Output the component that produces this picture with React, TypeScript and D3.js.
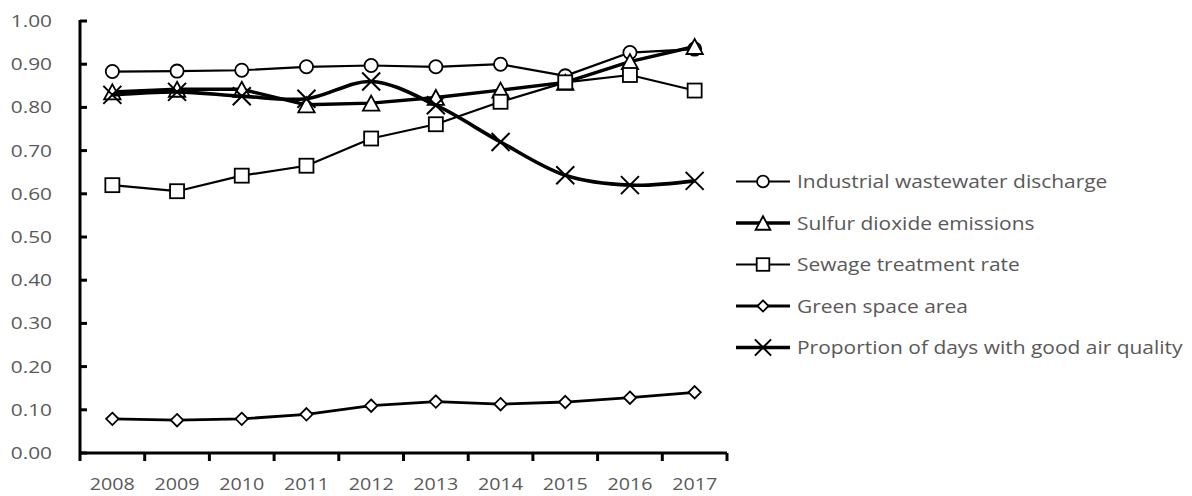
import React from "react";
import * as d3 from "d3";

const years = ["2008", "2009", "2010", "2011", "2012", "2013", "2014", "2015", "2016", "2017"];
const wastewater = [0.883, 0.884, 0.886, 0.894, 0.897, 0.894, 0.9, 0.873, 0.927, 0.935];
const sulfur = [0.836, 0.842, 0.842, 0.806, 0.81, 0.823, 0.84, 0.858, 0.906, 0.941];
const sewage = [0.62, 0.606, 0.642, 0.665, 0.728, 0.761, 0.813, 0.858, 0.875, 0.839];
const green = [0.079, 0.076, 0.079, 0.0895, 0.1095, 0.119, 0.113, 0.118, 0.128, 0.1405];
const air = [0.829, 0.836, 0.826, 0.82, 0.86, 0.805, 0.72, 0.643, 0.62, 0.63];
const yTicks = [0, 0.1, 0.2, 0.3, 0.4, 0.5, 0.6, 0.7, 0.8, 0.9, 1.0];
const seriesNames = [
  "Industrial wastewater discharge",
  "Sulfur dioxide emissions",
  "Sewage treatment rate",
  "Green space area",
  "Proportion of days with good air quality",
];

type Marker = "circle" | "triangle" | "square" | "diamond" | "x";
const series: { name: string; values: number[]; marker: Marker; width: number; smooth: boolean }[] = [
  { name: seriesNames[0], values: wastewater, marker: "circle", width: 2.2, smooth: false },
  { name: seriesNames[1], values: sulfur, marker: "triangle", width: 3.4, smooth: false },
  { name: seriesNames[2], values: sewage, marker: "square", width: 2.2, smooth: false },
  { name: seriesNames[3], values: green, marker: "diamond", width: 2.8, smooth: false },
  { name: seriesNames[4], values: air, marker: "x", width: 3.6, smooth: true },
];

const W = 1192;
const H = 496;
const FONT = "'Open Sans', sans-serif";
const SX = 1.27;
const TEXT = "#595959";

function MarkerShape({ type, x, y, s }: { type: Marker; x: number; y: number; s: number }) {
  const sw = 1.8;
  if (type === "circle") return <circle cx={x} cy={y} r={6.6 * s} fill="#fff" stroke="#000" strokeWidth={sw} />;
  if (type === "square") {
    const h = 7 * s;
    return <rect x={x - h} y={y - h} width={2 * h} height={2 * h} fill="#fff" stroke="#000" strokeWidth={sw} />;
  }
  if (type === "triangle") {
    const w = 8.2 * s;
    const hh = 7.5 * s;
    return (
      <path
        d={`M${x},${y - hh}L${x + w},${y + hh}L${x - w},${y + hh}Z`}
        fill="#fff"
        stroke="#000"
        strokeWidth={sw}
        strokeLinejoin="miter"
      />
    );
  }
  if (type === "diamond") {
    const h = 6.2 * s;
    return <path d={`M${x},${y - h}L${x + h},${y}L${x},${y + h}L${x - h},${y}Z`} fill="#fff" stroke="#000" strokeWidth={sw} />;
  }
  const h = 9 * s;
  return (
    <path d={`M${x - h},${y - h}L${x + h},${y + h}M${x - h},${y + h}L${x + h},${y - h}`} stroke="#000" strokeWidth={2} fill="none" />
  );
}

function SText(props: { x: number; y: number; anchor: string; size: number; children: string; sx?: number }) {
  const k = props.sx ?? SX;
  return (
    <text
      transform={`translate(${props.x},${props.y}) scale(${k},1)`}
      textAnchor={props.anchor as any}
      fontFamily={FONT}
      fontSize={props.size}
      fill={TEXT}
    >
      {props.children}
    </text>
  );
}

export default function App() {
  const x0 = 80;
  const x1 = 727;
  const yTop = 21;
  const yBot = 453;
  const xb = d3.scaleBand<string>().domain(years).range([x0, x1]);
  const xc = (i: number) => (xb(years[i]) as number) + xb.bandwidth() / 2;
  const y = d3.scaleLinear().domain([0, 1]).range([yBot, yTop]);

  const legX0 = 736;
  const legX1 = 790;
  const legY0 = 181.5;
  const legStep = 41.5;

  return (
    <svg width={W} height={H} style={{ position: "absolute", left: 0, top: 0, background: "#fff" }}>
      <rect width={W} height={H} fill="#fff" />
      {/* Y axis */}
      <line x1={x0} x2={x0} y1={yTop - 1} y2={yBot + 8} stroke="#000" strokeWidth={3} />
      {yTicks.map((t) => (
        <g key={t}>
          <line x1={x0} x2={x0 + 7} y1={y(t)} y2={y(t)} stroke="#000" strokeWidth={3} />
          <SText x={52} y={y(t) + 5.9} anchor="end" size={16.4}>
            {d3.format(".2f")(t)}
          </SText>
        </g>
      ))}
      {/* X axis */}
      <line x1={x0} x2={x1} y1={yBot} y2={yBot} stroke="#000" strokeWidth={3} />
      {years.map((yr, i) => (
        <g key={yr}>
          <line x1={(xb(yr) as number) + xb.bandwidth()} x2={(xb(yr) as number) + xb.bandwidth()} y1={yBot} y2={yBot + 8} stroke="#000" strokeWidth={3} />
          <SText x={xc(i)} y={490} anchor="middle" size={16.4} sx={1.2}>
            {yr}
          </SText>
        </g>
      ))}
      {/* Series */}
      {series.map((s) => {
        const line = d3
          .line<number>()
          .x((_, i) => xc(i))
          .y((v) => y(v))
          .curve(s.smooth ? d3.curveCatmullRom.alpha(0.5) : d3.curveLinear);
        return (
          <g key={s.name}>
            <path d={line(s.values) as string} fill="none" stroke="#000" strokeWidth={s.width} strokeLinejoin="round" />
            {s.values.map((v, i) => (
              <MarkerShape key={i} type={s.marker} x={xc(i)} y={y(v)} s={1} />
            ))}
          </g>
        );
      })}
      {/* Legend */}
      {series.map((s, i) => {
        const ly = legY0 + i * legStep;
        return (
          <g key={s.name}>
            <line x1={legX0} x2={legX1} y1={ly} y2={ly} stroke="#000" strokeWidth={s.width} />
            <MarkerShape type={s.marker} x={(legX0 + legX1) / 2} y={ly} s={0.9} />
            <SText x={797} y={ly + 6.5} anchor="start" size={18} sx={1.164}>
              {s.name}
            </SText>
          </g>
        );
      })}
    </svg>
  );
}
